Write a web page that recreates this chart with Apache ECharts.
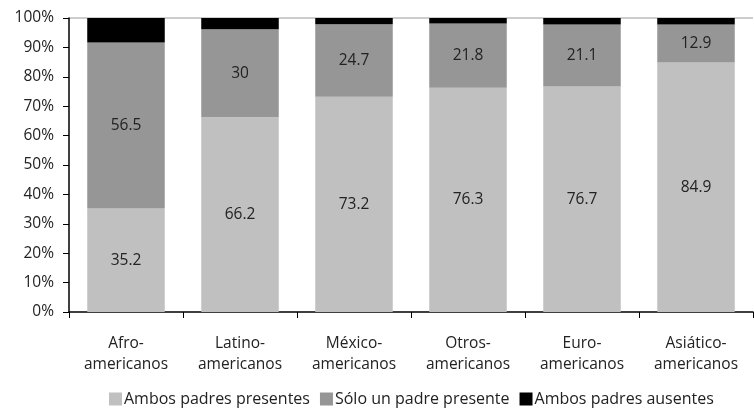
<!DOCTYPE html>
<html>
<head>
<meta charset="utf-8">
<style>
  html, body { margin: 0; padding: 0; background: #fff; }
  #chart { width: 754px; height: 412px; }
</style>
<script src="https://cdn.jsdelivr.net/npm/echarts@6/dist/echarts.min.js"></script>
</head>
<body>
<div id="chart"></div>
<script>
// Family structure by group (percent of households)
const categories = ['Afro-\namericanos', 'Latino-\namericanos', 'México-\namericanos', 'Otros-\namericanos', 'Euro-\namericanos', 'Asiático-\namericanos'];
const ambosPresentes = [35.2, 66.2, 73.2, 76.3, 76.7, 84.9];
const unPadre = [56.5, 30, 24.7, 21.8, 21.1, 12.9];
const ambosAusentes = [8.3, 3.8, 2.1, 1.9, 2.2, 2.2];
const seriesNames = ['Ambos padres presentes', 'Sólo un padre presente', 'Ambos padres ausentes'];

const FONT = '"Open Sans", Lato, sans-serif';
const FS = 15.5;
const chart = echarts.init(document.getElementById('chart'));

// only the 100% line is drawn as a light rule
const splitColors = Array(10).fill('rgba(0,0,0,0)').concat(['#bdbdbd']);

const barLabel = {
  show: true,
  position: 'inside',
  color: '#222',
  fontFamily: FONT,
  fontSize: FS
};

chart.setOption({
  animation: false,
  textStyle: { fontFamily: FONT },
  grid: { left: 69, right: 1, top: 18, bottom: 100 },
  legend: {
    bottom: 0,
    left: 104,
    itemWidth: 13,
    itemHeight: 13,
    itemGap: 10,
    icon: 'rect',
    textStyle: { fontFamily: FONT, fontSize: 16, color: '#222', padding: [0, 0, 0, -3] },
    data: seriesNames
  },
  xAxis: {
    type: 'category',
    data: categories,
    axisLine: { lineStyle: { color: '#000', width: 1.5 } },
    axisTick: { show: true, length: 6, lineStyle: { color: '#000' } },
    axisLabel: { color: '#222', fontFamily: FONT, fontSize: FS, lineHeight: 21, margin: 21 }
  },
  yAxis: {
    type: 'value',
    min: 0,
    max: 100,
    interval: 10,
    axisLine: { show: true, lineStyle: { color: '#000', width: 1.5 } },
    axisTick: { show: true, length: 6, lineStyle: { color: '#000' } },
    axisLabel: { formatter: '{value}%', color: '#222', fontFamily: FONT, fontSize: FS, margin: 15 },
    splitLine: { show: true, lineStyle: { color: splitColors, width: 1.5 } }
  },
  series: [
    {
      name: seriesNames[0], type: 'bar', stack: 'total', data: ambosPresentes,
      barCategoryGap: '32%', itemStyle: { color: '#c0c0c0' }, label: barLabel
    },
    {
      name: seriesNames[1], type: 'bar', stack: 'total', data: unPadre,
      itemStyle: { color: '#969696' }, label: barLabel
    },
    {
      name: seriesNames[2], type: 'bar', stack: 'total', data: ambosAusentes,
      itemStyle: { color: '#000' }
    }
  ]
});
</script>
</body>
</html>
